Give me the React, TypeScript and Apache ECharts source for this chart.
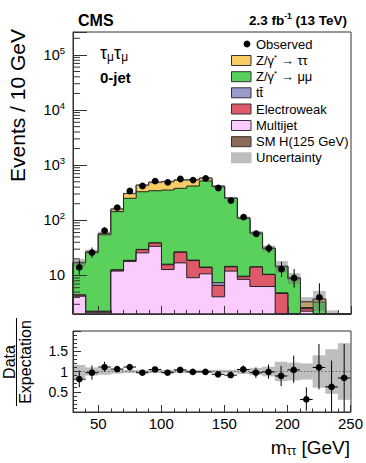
import React, { useEffect, useRef } from "react";
import * as echarts from "echarts";

// ---------------- data ----------------
const binEdges = [30, 40, 50, 60, 70, 80, 90, 100, 110, 120, 130, 140, 150, 160, 170, 180, 190, 200, 210, 220, 230, 240, 250];
const binCenters = [35, 45, 55, 65, 75, 85, 95, 105, 115, 125, 135, 145, 155, 165, 175, 185, 195, 205, 215, 225, 235, 245];

// stack, bottom -> top
const multijet = [4.2, 2.1, 2.1, 12.0, 18.0, 25.7, 33.7, 12.8, 16.9, 9.1, 10.7, 4.1, 12.0, 8.5, 6.3, 6.3, 0, 0, 2.25, 0, 0, 0];
const electroweak = [0.2, 0.1, 0.1, 0.5, 0.5, 3.7, 5.0, 2.8, 9.4, 9.5, 3.2, 2.5, 2.3, 1.0, 7.9, 4.1, 4.7, 0, 0.25, 0, 0, 0];
const ttbar = [0.05, 0.05, 0.05, 0.2, 0.3, 0.3, 0.3, 0.4, 0.4, 0.4, 0.3, 0.8, 0.3, 0.2, 0.2, 0.1, 0.15, 0, 0.12, 0, 0, 0];
const zmumu = [12.5, 24.0, 52.5, 131, 232, 300, 305, 338, 354, 399, 502, 398, 236, 100, 44, 20.5, 9.6, 8.7, 0, 3.3, 1.2, 1.0];
const ztautau = [0.3, 0.6, 3.0, 16, 55, 103, 145, 149, 157, 123, 65, 9, 1.0, 0.5, 0.3, 0.2, 0.2, 0.3, 0.7, 0.4, 0.3, 0.2];
const smHiggs = [0, 0, 0.1, 0.2, 0.4, 0.6, 0.9, 1.2, 1.5, 1.8, 1.6, 1.0, 0.5, 0.2, 0.1, 0.05, 0.05, 0.03, 0.05, 0.05, 0, 0];

const observed = [14, 26, 65, 170, 340, 420, 513, 488, 560, 536, 575, 385, 228, 114, 57, 31, 13, 9, 1, 4, 1, 1];
const observedErrUp = [4.8, 6.1, 9.1, 14.0, 19.4, 21.5, 23.7, 23.1, 24.7, 24.2, 25.0, 20.6, 16.1, 11.7, 8.6, 6.6, 4.7, 4.1, 2.3, 3.2, 2.3, 2.3];
const observedErrDown = [3.7, 5.1, 8.1, 13.0, 18.4, 20.5, 22.6, 22.1, 23.7, 23.2, 24.0, 19.6, 15.1, 10.7, 7.5, 5.5, 3.6, 3.0, 0.8, 1.9, 0.8, 0.8];

// relative uncertainty of the expectation (half width of the band)
const relUncertainty = [0.16, 0.10, 0.08, 0.05, 0.04, 0.04, 0.04, 0.04, 0.04, 0.04, 0.04, 0.04, 0.04, 0.06, 0.09, 0.12, 0.24, 0.22, 0.20, 0.40, 0.55, 0.70];

// ratio panel
const ratio = [0.81, 0.97, 1.11, 1.06, 1.11, 0.97, 1.05, 0.97, 1.04, 0.99, 0.99, 0.93, 0.91, 1.05, 0.97, 0.99, 0.89, 1.04, 0.31, 1.10, 0.62, 0.84];
const ratioLow = [0.61, 0.80, 1.00, 0.99, 1.05, 0.92, 1.00, 0.93, 0.99, 0.95, 0.95, 0.88, 0.85, 0.96, 0.84, 0.82, 0.64, 0.72, 0.03, 0.56, 0.0, 0.0];
const ratioHigh = [1.02, 1.15, 1.24, 1.14, 1.17, 1.02, 1.10, 1.02, 1.08, 1.03, 1.03, 0.98, 0.97, 1.15, 1.10, 1.17, 1.14, 1.39, 0.61, 1.68, 1.27, 1.68];

// tick labels
const xTickLabels = [50, 100, 150, 200, 250];
const ratioTickLabels = [0.5, 1, 1.5];
const logDecadeLabels = [1, 2, 3, 4, 5];

// ---------------- styling ----------------
const FONT = "'Liberation Sans', Arial, Helvetica, sans-serif";
const Y_MIN = 2;
const Y_MAX = 260000;
const R_MIN = 0;
const R_MAX = 2;
const AXIS_COLOR = "#333";

const componentData = [multijet, electroweak, ttbar, zmumu, ztautau, smHiggs];
const componentColors = ["#fbcafe", "#de5a6a", "#9a99cc", "#5ad15a", "#f9cd66", "#8e6b58"];
const bandFill = "rgba(110,110,110,0.45)";

const legendItems = [
  { text: "Observed", kind: "marker", color: "#000" },
  { text: "Z/γ{s|*} → ττ", kind: "box", color: componentColors[4] },
  { text: "Z/γ{s|*} → μμ", kind: "box", color: componentColors[3] },
  { text: "tt\u0304", kind: "box", color: componentColors[2] },
  { text: "Electroweak", kind: "box", color: componentColors[1] },
  { text: "Multijet", kind: "box", color: componentColors[0] },
  { text: "SM H(125 GeV)", kind: "box", color: componentColors[5] },
  { text: "Uncertainty", kind: "band", color: "#bdbdbd" },
];

function buildCumulative(): number[][] {
  const out: number[][] = [];
  let running = binCenters.map(() => 0);
  componentData.forEach((comp) => {
    running = running.map((v, i) => v + comp[i]);
    out.push(running.slice());
  });
  return out;
}

const clampY = (v: number) => Math.min(Y_MAX, Math.max(Y_MIN, v));
const clampR = (v: number) => Math.min(R_MAX, Math.max(R_MIN, v));

function minorLogTicks(): number[] {
  const out: number[] = [];
  for (let e = 0; e <= 5; e++) {
    for (let k = 2; k <= 9; k++) {
      const v = k * Math.pow(10, e);
      if (v > Y_MIN && v < Y_MAX) out.push(v);
    }
  }
  return out;
}

export default function App() {
  const ref = useRef<HTMLDivElement>(null);

  useEffect(() => {
    if (!ref.current) return;
    const chart = echarts.init(ref.current, undefined, { renderer: "svg" });
    const cumulative = buildCumulative();
    const total = cumulative[cumulative.length - 1];
    const nb = binCenters.length;

    const stackSeries = {
      type: "custom",
      xAxisIndex: 0,
      yAxisIndex: 0,
      z: 1,
      silent: true,
      dimensions: ["x", "y", "k"],
      encode: { x: 0, y: 1 },
      data: [5, 4, 3, 2, 1, 0].map((k) => [30, Y_MIN, k]),
      renderItem: (params: any, api: any) => {
        const k = api.value(2);
        const cum = cumulative[k];
        const pts: number[][] = [];
        pts.push(api.coord([binEdges[0], Y_MIN]));
        for (let i = 0; i < nb; i++) {
          const v = clampY(cum[i]);
          pts.push(api.coord([binEdges[i], v]));
          pts.push(api.coord([binEdges[i + 1], v]));
        }
        pts.push(api.coord([binEdges[nb], Y_MIN]));
        return {
          type: "polygon",
          shape: { points: pts },
          style: { fill: componentColors[k], stroke: "#222", lineWidth: 1 },
        };
      },
    };

    const bandSeries = {
      type: "custom",
      xAxisIndex: 0,
      yAxisIndex: 0,
      z: 2,
      silent: true,
      dimensions: ["x", "y", "i"],
      encode: { x: 0, y: 1 },
      data: binCenters.map((c, i) => [c, Math.max(total[i], Y_MIN), i]),
      renderItem: (params: any, api: any) => {
        const i = api.value(2);
        const hi = total[i] * (1 + relUncertainty[i]);
        const lo = total[i] * (1 - relUncertainty[i]);
        if (hi <= Y_MIN) return null;
        const p1 = api.coord([binEdges[i], clampY(hi)]);
        const p2 = api.coord([binEdges[i + 1], clampY(lo)]);
        return {
          type: "rect",
          shape: { x: p1[0], y: p1[1], width: p2[0] - p1[0], height: p2[1] - p1[1] },
          style: { fill: bandFill },
        };
      },
    };

    const dataSeries = {
      type: "custom",
      xAxisIndex: 0,
      yAxisIndex: 0,
      z: 4,
      silent: true,
      dimensions: ["x", "y", "i"],
      encode: { x: 0, y: 1 },
      data: observed
        .map((v, i) => [binCenters[i], v, i])
        .filter((d) => d[1] >= Y_MIN),
      renderItem: (params: any, api: any) => {
        const i = api.value(2);
        const x = binCenters[i];
        const v = observed[i];
        const top = api.coord([x, clampY(v + observedErrUp[i])]);
        const bot = api.coord([x, clampY(v - observedErrDown[i])]);
        const c = api.coord([x, v]);
        return {
          type: "group",
          children: [
            { type: "line", shape: { x1: top[0], y1: top[1], x2: bot[0], y2: bot[1] }, style: { stroke: "#000", lineWidth: 1 } },
            { type: "circle", shape: { cx: c[0], cy: c[1], r: 3.4 }, style: { fill: "#000" } },
          ],
        };
      },
    };

    const minorTickSeries = {
      type: "custom",
      xAxisIndex: 0,
      yAxisIndex: 0,
      z: 5,
      silent: true,
      encode: { x: 0, y: 1 },
      data: minorLogTicks().map((v) => [30, v]),
      renderItem: (params: any, api: any) => {
        const p = api.coord([api.value(0), api.value(1)]);
        return {
          type: "line",
          shape: { x1: p[0], y1: p[1], x2: p[0] + 7, y2: p[1] },
          style: { stroke: AXIS_COLOR, lineWidth: 1 },
        };
      },
    };

    const ratioBandSeries = {
      type: "custom",
      xAxisIndex: 2,
      yAxisIndex: 1,
      z: 2,
      silent: true,
      dimensions: ["x", "y", "i"],
      encode: { x: 0, y: 1 },
      data: binCenters.map((c, i) => [c, 1, i]),
      renderItem: (params: any, api: any) => {
        const i = api.value(2);
        const p1 = api.coord([binEdges[i], clampR(1 + relUncertainty[i])]);
        const p2 = api.coord([binEdges[i + 1], clampR(1 - relUncertainty[i])]);
        return {
          type: "rect",
          shape: { x: p1[0], y: p1[1], width: p2[0] - p1[0], height: p2[1] - p1[1] },
          style: { fill: bandFill },
        };
      },
    };

    const ratioLineSeries = {
      type: "custom",
      xAxisIndex: 2,
      yAxisIndex: 1,
      z: 3,
      silent: true,
      encode: { x: 0, y: 1 },
      data: [[30, 1]],
      renderItem: (params: any, api: any) => {
        const a = api.coord([binEdges[0], 1]);
        const b = api.coord([binEdges[nb], 1]);
        return {
          type: "line",
          shape: { x1: a[0], y1: a[1], x2: b[0], y2: b[1] },
          style: { stroke: "#666", lineWidth: 1, lineDash: [1.5, 2] },
        };
      },
    };

    const ratioDataSeries = {
      type: "custom",
      xAxisIndex: 2,
      yAxisIndex: 1,
      z: 4,
      silent: true,
      dimensions: ["x", "y", "i"],
      encode: { x: 0, y: 1 },
      data: ratio.map((r, i) => [binCenters[i], r, i]),
      renderItem: (params: any, api: any) => {
        const i = api.value(2);
        const x = binCenters[i];
        const r = ratio[i];
        const top = api.coord([x, clampR(ratioHigh[i])]);
        const bot = api.coord([x, clampR(ratioLow[i])]);
        const left = api.coord([binEdges[i], r]);
        const right = api.coord([binEdges[i + 1], r]);
        const c = api.coord([x, r]);
        return {
          type: "group",
          children: [
            { type: "line", shape: { x1: top[0], y1: top[1], x2: bot[0], y2: bot[1] }, style: { stroke: "#000", lineWidth: 1 } },
            { type: "line", shape: { x1: left[0], y1: left[1], x2: right[0], y2: right[1] }, style: { stroke: "#000", lineWidth: 1 } },
            { type: "circle", shape: { cx: c[0], cy: c[1], r: 3.3 }, style: { fill: "#000" } },
          ],
        };
      },
    };

    const baseX = {
      type: "value",
      min: 30,
      max: 250,
      position: "bottom",
      splitLine: { show: false },
      z: 6,
    };

    const legendRows = [44, 60.5, 76.7, 92.8, 109, 125.5, 141.7, 157.8];
    const legendGraphics: any[] = [];
    legendItems.forEach((item, idx) => {
      const y = legendRows[idx];
      if (item.kind === "marker") {
        legendGraphics.push({ type: "circle", shape: { cx: 247, cy: y, r: 3.4 }, style: { fill: "#000" }, z: 101, silent: true });
      } else if (item.kind === "box") {
        legendGraphics.push({
          type: "rect",
          shape: { x: 231.5, y: y - 5, width: 19.5, height: 10 },
          style: { fill: item.color, stroke: "#333", lineWidth: 1 },
          z: 101,
          silent: true,
        });
      } else {
        legendGraphics.push({
          type: "rect",
          shape: { x: 231, y: y - 5.5, width: 20.5, height: 11 },
          style: { fill: item.color },
          z: 101,
          silent: true,
        });
      }
      legendGraphics.push({
        type: "text",
        x: 256,
        y: y,
        z: 101,
        silent: true,
        style: {
          text: item.text,
          fill: "#000",
          fontFamily: FONT,
          fontSize: 13,
          align: "left",
          verticalAlign: "middle",
          rich: {
            s: { fontFamily: FONT, fontSize: 8, fill: "#000", padding: [0, 0, 7, 0] },
          },
        },
      });
    });

    const option: any = {
      animation: false,
      backgroundColor: "#fff",
      grid: [
        { left: 73, top: 32, width: 278, height: 282 },
        { left: 73, top: 331, width: 278, height: 81 },
      ],
      xAxis: [
        {
          ...baseX,
          gridIndex: 0,
          interval: 10,
          axisLine: { show: true, lineStyle: { color: AXIS_COLOR } },
          axisTick: { show: true, inside: true, length: 4, lineStyle: { color: AXIS_COLOR } },
          axisLabel: { show: false },
        },
        {
          ...baseX,
          gridIndex: 0,
          splitNumber: 5,
          axisLine: { show: false },
          axisTick: { show: true, inside: true, length: 8, lineStyle: { color: AXIS_COLOR } },
          axisLabel: { show: false },
        },
        {
          ...baseX,
          gridIndex: 1,
          interval: 10,
          axisLine: { show: true, lineStyle: { color: AXIS_COLOR } },
          axisTick: { show: true, inside: true, length: 3.5, lineStyle: { color: AXIS_COLOR } },
          axisLabel: { show: false },
        },
        {
          ...baseX,
          gridIndex: 1,
          splitNumber: 5,
          axisLine: { show: false },
          axisTick: { show: true, inside: true, length: 7, lineStyle: { color: AXIS_COLOR } },
          axisLabel: {
            show: true,
            margin: 4,
            fontFamily: FONT,
            fontSize: 15,
            color: "#000",
            formatter: (v: number) => (xTickLabels.indexOf(v) >= 0 ? String(v) : ""),
          },
        },
      ],
      yAxis: [
        {
          type: "log",
          logBase: 10,
          gridIndex: 0,
          min: Y_MIN,
          max: Y_MAX,
          z: 6,
          splitLine: { show: false },
          axisLine: { show: true, lineStyle: { color: AXIS_COLOR } },
          axisTick: { show: true, inside: true, length: 14, lineStyle: { color: AXIS_COLOR } },
          axisLabel: {
            margin: 8,
            formatter: (v: number) => {
              const e = Math.log10(v);
              const r = Math.round(e);
              if (Math.abs(e - r) > 1e-6 || logDecadeLabels.indexOf(r) < 0) return "";
              if (r === 1) return "{b|10}";
              return "{b|10}{s|" + r + "}";
            },
            rich: {
              b: { fontFamily: FONT, fontSize: 14.5, color: "#000" },
              s: { fontFamily: FONT, fontSize: 9.5, color: "#000", padding: [0, 0, 9, 0] },
            },
          },
        },
        {
          type: "value",
          gridIndex: 1,
          min: R_MIN,
          max: R_MAX,
          interval: 0.5,
          z: 6,
          splitLine: { show: false },
          axisLine: { show: true, lineStyle: { color: AXIS_COLOR } },
          axisTick: { show: true, inside: true, length: 8, lineStyle: { color: AXIS_COLOR } },
          minorTick: { show: true, splitNumber: 5, length: 4, lineStyle: { color: AXIS_COLOR } },
          minorSplitLine: { show: false },
          axisLabel: {
            margin: 5,
            fontFamily: FONT,
            fontSize: 14,
            color: "#000",
            formatter: (v: number) => (ratioTickLabels.indexOf(v) >= 0 ? String(v) : ""),
          },
        },
      ],
      series: [stackSeries, bandSeries, dataSeries, minorTickSeries, ratioBandSeries, ratioLineSeries, ratioDataSeries],
      graphic: [
        // frames
        { type: "rect", shape: { x: 73, y: 32, width: 278, height: 282 }, style: { fill: "none", stroke: AXIS_COLOR, lineWidth: 1 }, z: 100, silent: true },
        { type: "rect", shape: { x: 73, y: 331, width: 278, height: 81 }, style: { fill: "none", stroke: AXIS_COLOR, lineWidth: 1 }, z: 100, silent: true },
        // header
        {
          type: "text", x: 78, y: 20, z: 101, silent: true,
          style: { text: "CMS", fontFamily: FONT, fontWeight: "bold", fontSize: 16, fill: "#000", align: "left", verticalAlign: "middle" },
        },
        {
          type: "text", x: 347, y: 20, z: 101, silent: true,
          style: {
            text: "{b|2.3 fb}{s|-1}{b| (13 TeV)}",
            align: "right",
            verticalAlign: "middle",
            rich: {
              b: { fontFamily: FONT, fontWeight: "bold", fontSize: 13.5, fill: "#000" },
              s: { fontFamily: FONT, fontWeight: "bold", fontSize: 8.5, fill: "#000", padding: [0, 0, 8, 0] },
            },
          },
        },
        // channel / category
        {
          type: "text", x: 100, y: 53, z: 101, silent: true,
          style: {
            text: "{t|τ}{m|μ}{t|τ}{m|μ}",
            align: "left",
            verticalAlign: "middle",
            rich: {
              t: { fontFamily: FONT, fontSize: 18, fill: "#000" },
              m: { fontFamily: FONT, fontSize: 12, fill: "#000", padding: [8, 0, 0, 0] },
            },
          },
        },
        {
          type: "text", x: 100, y: 77, z: 101, silent: true,
          style: { text: "0-jet", fontFamily: FONT, fontWeight: "bold", fontSize: 15, fill: "#000", align: "left", verticalAlign: "middle" },
        },
        // axis titles
        {
          type: "text", x: 17, y: 29, rotation: Math.PI / 2, z: 101, silent: true,
          style: { text: "Events / 10 GeV", fontFamily: FONT, fontSize: 21, fill: "#000", align: "right", verticalAlign: "middle" },
        },
        {
          type: "text", x: 9, y: 362, rotation: Math.PI / 2, z: 101, silent: true,
          style: { text: "Data", fontFamily: FONT, fontSize: 16, fill: "#000", align: "center", verticalAlign: "middle" },
        },
        {
          type: "line", z: 101, silent: true,
          shape: { x1: 16.5, y1: 318, x2: 16.5, y2: 406 },
          style: { stroke: "#000", lineWidth: 1 },
        },
        {
          type: "text", x: 25, y: 362, rotation: Math.PI / 2, z: 101, silent: true,
          style: { text: "Expectation", fontFamily: FONT, fontSize: 16, fill: "#000", align: "center", verticalAlign: "middle" },
        },
        {
          type: "text", x: 350, y: 447, z: 101, silent: true,
          style: {
            text: "{m|m}{u|ττ}{m| [GeV]}",
            align: "right",
            verticalAlign: "middle",
            rich: {
              m: { fontFamily: FONT, fontSize: 19, fill: "#000" },
              u: { fontFamily: FONT, fontSize: 12, fill: "#000", padding: [8, 0, 0, 0] },
            },
          },
        },
        ...legendGraphics,
      ],
    };

    chart.setOption(option);
    return () => {
      chart.dispose();
    };
  }, []);

  return (
    <div
      ref={ref}
      style={{ position: "fixed", left: 0, top: 0, width: 366, height: 463, background: "#fff" }}
    />
  );
}
